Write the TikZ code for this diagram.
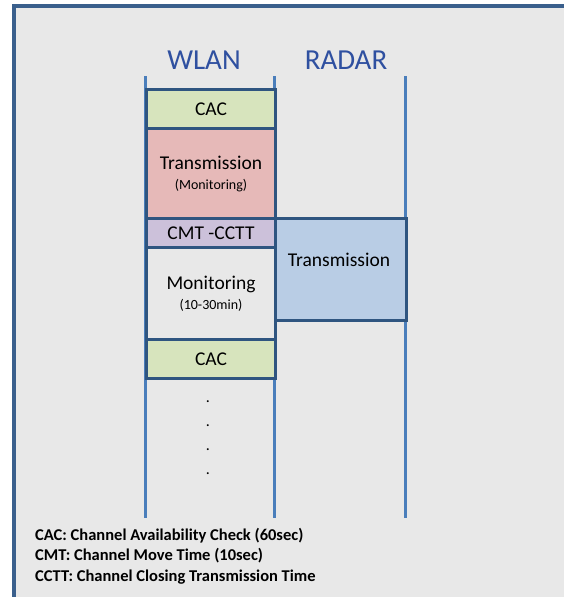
\documentclass[tikz,border=0pt]{standalone}
\usepackage{fontspec}
\setmainfont{Carlito}
\definecolor{bggray}{RGB}{232,232,232}
\definecolor{framecol}{RGB}{58,95,140}
\definecolor{boxedge}{RGB}{47,85,128}
\definecolor{linecol}{RGB}{74,126,187}
\definecolor{headcol}{RGB}{47,80,160}
\definecolor{cacfill}{RGB}{215,228,189}
\definecolor{txfill}{RGB}{230,185,184}
\definecolor{cmtfill}{RGB}{204,193,218}
\definecolor{radfill}{RGB}{185,205,229}
\tikzset{
  seg/.style={draw=boxedge, line width=3pt, anchor=north west, inner sep=0pt, align=center, text=black, font=\fontsize{19.5}{21}\selectfont},
  lane/.style={draw=linecol, line width=3pt},
  head/.style={text=headcol, font=\fontsize{29}{31}\selectfont},
  legend/.style={anchor=base west, font=\bfseries\fontsize{16.5}{18}\selectfont, inner sep=0pt},
  dotnode/.style={inner sep=0pt, font=\fontsize{16}{16}\selectfont}
}
\begin{document}
\begin{tikzpicture}[x=1pt,y=-1pt]
\useasboundingbox (0,0) rectangle (563,597);
\fill[white] (0,0) rectangle (563,597);
\draw[framecol, line width=4pt, fill=bggray] (13.7,6.3) rectangle (580,615);
% lanes
\coordinate (l1t) at (145,76); \coordinate (l1b) at (145,518);
\coordinate (l2t) at (274,76); \coordinate (l2b) at (274,518);
\coordinate (l3t) at (405,76); \coordinate (l3b) at (405,518);
\draw[lane] (l1t) -- (l1b);
\draw[lane] (l2t) -- (l2b);
\draw[lane] (l3t) -- (l3b);
% headers
\node[head] (wlan) at (204,60) {WLAN};
\node[head] (radar) at (346,60) {RADAR};
% WLAN segments
\node[seg, fill=cacfill, minimum width=129pt, minimum height=39pt] (cac1) at (145,88) {CAC};
\node[seg, fill=txfill, minimum width=129pt, minimum height=90pt] (tx) at (145,127)
  {Transmission\\[-1pt]{\fontsize{14}{15}\selectfont (Monitoring)}};
\node[seg, fill=cmtfill, minimum width=129pt, minimum height=29pt] (cmt) at (145,217) {CMT -CCTT};
\node[seg, fill=bggray, minimum width=129pt, minimum height=92pt] (mon) at (145,246)
  {Monitoring\\[-1pt]{\fontsize{14}{15}\selectfont (10-30min)}};
\node[seg, fill=cacfill, minimum width=129pt, minimum height=39pt] (cac2) at (145,338) {CAC};
% RADAR segment
\node[seg, fill=radfill, minimum width=131pt, minimum height=102pt] (rtx) at (274,217) {};
\node[font=\fontsize{19.5}{21}\selectfont] (rtxt) at (339,260) {Transmission};
% dots
\node[dotnode] (d1) at (208,402) {.};
\node[dotnode] (d2) at (208,426) {.};
\node[dotnode] (d3) at (208,450) {.};
\node[dotnode] (d4) at (208,474) {.};
% legend
\node[legend] (lg1) at (35,540) {CAC: Channel Availability Check (60sec)};
\node[legend] (lg2) at (35,560.5) {CMT: Channel Move Time (10sec)};
\node[legend] (lg3) at (35,581) {CCTT: Channel Closing Transmission Time};
\end{tikzpicture}
\end{document}
